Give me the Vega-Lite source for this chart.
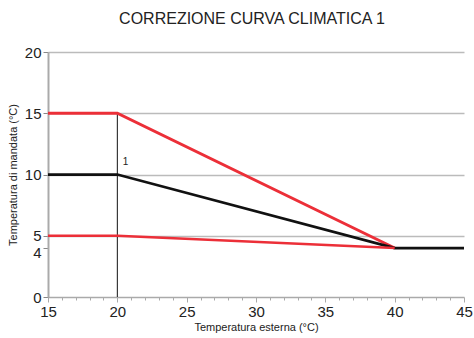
{
  "$schema": "https://vega.github.io/schema/vega-lite/v6.json",
  "autosize": {"type": "none"},
  "width": 416,
  "height": 245,
  "padding": {"left": 48, "top": 52, "right": 10, "bottom": 41},
  "background": "white",
  "title": {"text": "CORREZIONE CURVA CLIMATICA 1", "font": "Liberation Sans", "fontSize": 16, "fontWeight": "normal", "color": "#222", "offset": 18, "dx": -4},
  "config": {"view": {"stroke": null}, "font": "Liberation Sans", "axis": {"labelOverlap": false}},
  "resolve": {"axis": {"x": "independent"}},
  "layer": [
    {
      "data": {"values": [{"x": 20, "y": 0, "y2": 15}]},
      "mark": {"type": "rule", "color": "#111", "strokeWidth": 1},
      "encoding": {
        "x": {"field": "x", "type": "quantitative", "scale": {"domain": [15, 45], "nice": false},
          "axis": {"orient": "bottom", "values": [15, 20, 25, 30, 35, 40, 45],
            "labelOverlap": false, "labelBound": false, "labelFlush": false,
            "tickSize": 5,
            "tickColor": "#aaa", "domainColor": "#aaa", "domainWidth": 1.5, "grid": false,
            "labelFontSize": 15, "labelColor": "#222", "labelPadding": 2, "labelFont": "Liberation Sans",
            "title": "Temperatura esterna (°C)", "titleFontSize": 11, "titleFontWeight": "normal", "titleColor": "#222", "titlePadding": 2, "titleFont": "Liberation Sans"}},
        "y": {"field": "y", "type": "quantitative", "scale": {"domain": [0, 20], "nice": false},
          "axis": {"values": [0, 4, 5, 10, 15, 20], "labelOverlap": false, "grid": true,
            "gridColor": "#bbb", "gridWidth": 1.5,
            "gridOpacity": {"condition": {"test": "datum.value === 4 || datum.value === 0", "value": 0}, "value": 1},
            "labelOffset": {"condition": {"test": "datum.value === 4", "value": 4}, "value": 0},
            "domainColor": "#aaa", "domainWidth": 2, "tickColor": "#888", "tickSize": 5,
            "labelFontSize": 15, "labelColor": "#222", "labelPadding": 2, "labelFont": "Liberation Sans",
            "title": "Temperatura di mandata (°C)", "titleFontSize": 11, "titleFontWeight": "normal", "titleColor": "#222", "titlePadding": 6, "titleFont": "Liberation Sans"}},
        "y2": {"field": "y2"}
      }
    },
    {
      "data": {"values": [
        {"series": "upper", "x": 15, "y": 15, "o": 1},
        {"series": "upper", "x": 20, "y": 15, "o": 2},
        {"series": "upper", "x": 40, "y": 4, "o": 3},
        {"series": "curve1", "x": 15, "y": 10, "o": 1},
        {"series": "curve1", "x": 20, "y": 10, "o": 2},
        {"series": "curve1", "x": 40, "y": 4, "o": 3},
        {"series": "curve1", "x": 45, "y": 4, "o": 4},
        {"series": "lower", "x": 15, "y": 5, "o": 1},
        {"series": "lower", "x": 20, "y": 5, "o": 2},
        {"series": "lower", "x": 40, "y": 4, "o": 3}
      ]},
      "mark": {"type": "line", "strokeJoin": "miter"},
      "encoding": {
        "x": {"field": "x", "type": "quantitative",
          "axis": {"orient": "bottom", "values": [16,17,18,19,21,22,23,24,26,27,28,29,31,32,33,34,36,37,38,39,41,42,43,44],
            "labels": false, "domain": false, "grid": false, "tickSize": 3, "tickColor": "#aaa", "title": null}},
        "y": {"field": "y", "type": "quantitative"},
        "order": {"field": "o"},
        "detail": {"field": "series"},
        "color": {"field": "series", "type": "nominal", "scale": {"domain": ["upper", "curve1", "lower"], "range": ["#ec2f38", "#111111", "#ec2f38"]}, "legend": null},
        "strokeWidth": {"field": "series", "type": "nominal", "scale": {"domain": ["upper", "curve1", "lower"], "range": [3, 2.5, 3]}, "legend": null}
      }
    },
    {
      "data": {"values": [{"x": 20.6, "y": 10.6, "label": "1"}]},
      "mark": {"type": "text", "fontSize": 10, "color": "#222", "align": "center", "baseline": "bottom", "font": "Liberation Sans"},
      "encoding": {
        "x": {"field": "x", "type": "quantitative", "axis": null},
        "y": {"field": "y", "type": "quantitative"},
        "text": {"field": "label"}
      }
    }
  ]
}
